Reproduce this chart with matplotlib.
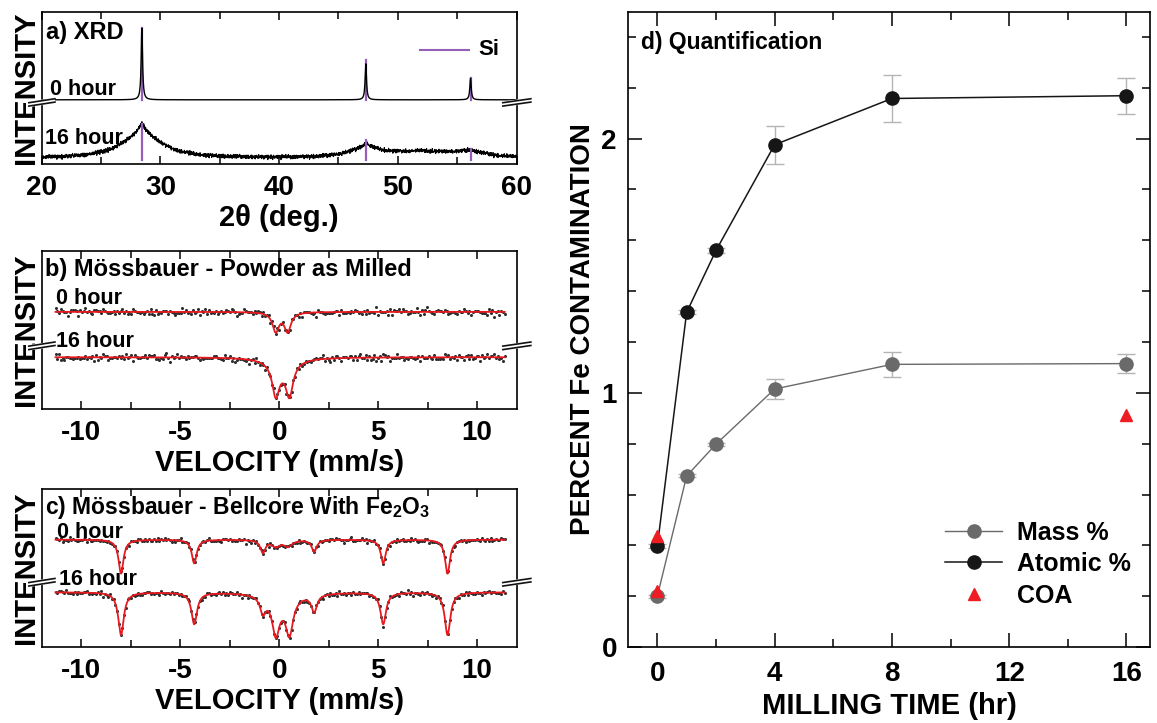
import numpy as np
import matplotlib
matplotlib.use("Agg")
import matplotlib.pyplot as plt
from matplotlib.ticker import MultipleLocator
from matplotlib.lines import Line2D

plt.rcParams.update({
    "font.family": ["Liberation Sans", "DejaVu Sans"],
    "font.weight": "bold",
    "axes.labelweight": "bold",
    "axes.unicode_minus": False,
    "mathtext.fontset": "custom",
    "mathtext.rm": "Liberation Sans:bold",
    "mathtext.it": "Liberation Sans:bold",
    "mathtext.bf": "Liberation Sans:bold",
    "axes.linewidth": 1.2,
})

# ---------------- (d) Fe contamination vs milling time ----------------
milling_hours = [0, 1, 2, 4, 8, 16]
mass_pct = [0.200, 0.673, 0.798, 1.015, 1.112, 1.115]
mass_err = [0.006, 0.006, 0.006, 0.040, 0.048, 0.037]
atomic_pct = [0.397, 1.317, 1.560, 1.976, 2.158, 2.169]
atomic_err = [0.008, 0.008, 0.008, 0.074, 0.092, 0.071]
coa_hours = [0, 0, 16]
coa_pct = [0.436, 0.219, 0.912]

# ---------------- (a) XRD ----------------
si_two_theta = [28.44, 47.30, 56.12]
si_rel_int = [1.00, 0.55, 0.30]
# 0 hour: sharp Si reflections
xrd0_base = 0.421
xrd0_pos = [28.44, 47.30, 56.12]
xrd0_height = [0.469, 0.236, 0.141]
xrd0_hwhm = [0.07, 0.07, 0.07]
# 16 hour: broadened reflections plus amorphous hump
xrd16_base = 0.035
xrd16_pos = [28.44, 28.44, 47.30, 47.30, 56.12, 52.0]
xrd16_height = [0.170, 0.055, 0.060, 0.025, 0.035, 0.040]
xrd16_hwhm = [2.0, 0.30, 1.6, 0.25, 1.6, 3.5]
xrd16_noise = 0.006

# ---------------- (b) Mössbauer, powder as milled ----------------
b0_base = 0.615
b0_pos = [-0.17, 0.43]
b0_depth = [0.121, 0.121]
b0_hwhm = [0.20, 0.20]
b16_base = 0.328
b16_pos = [-0.17, 0.52, 0.17]
b16_depth = [0.20, 0.20, 0.05]
b16_hwhm = [0.22, 0.22, 0.80]
b_noise = 0.010

# ---------------- (c) Mössbauer, Bellcore with Fe2O3 ----------------
c0_base = 0.680
c0_pos = [-7.99, -4.29, -0.82, 1.77, 5.26, 8.51, -0.17, 0.45]
c0_depth = [0.215, 0.150, 0.080, 0.075, 0.150, 0.215, 0.040, 0.040]
c0_hwhm = [0.15, 0.15, 0.15, 0.15, 0.15, 0.15, 0.25, 0.25]
c16_base = 0.347
c16_pos = [-7.99, -4.29, -0.82, 1.77, 5.26, 8.51, -0.17, 0.52, 0.17]
c16_depth = [0.27, 0.20, 0.10, 0.11, 0.20, 0.27, 0.22, 0.22, 0.05]
c16_hwhm = [0.17, 0.17, 0.17, 0.17, 0.17, 0.17, 0.22, 0.22, 0.80]
c_noise = 0.0065

# counting-statistics scatter (in units of one standard deviation)
RESID = [
    0.31, -1.12, 0.84, 1.57, -0.43, -1.96, 0.92, 0.08, -0.71, 1.24,
    -1.48, 0.53, 2.06, -0.22, -0.89, 0.61, -1.83, 1.02, 0.19, -0.52,
    1.41, -1.19, -0.07, 0.73, -2.27, 1.76, 0.38, -0.63, 1.09, -1.37,
    0.02, 0.94, -0.81, 1.52, -0.28, -1.04, 2.35, -1.61, 0.57, 0.21,
    -0.41, 1.33, -1.88, 0.79, -0.13, 0.48, -1.29, 1.68, -0.74, 0.27,
    -2.09, 0.99, 0.43, -0.92, 1.86, -0.47, -1.08, 0.69, 0.11, -1.72,
    1.18, -0.19, 0.88, -1.41, 1.97, -0.58, 0.33, -0.99, 1.46, -0.31,
    0.64, -2.18, 1.07, -0.02, -0.83, 1.59, -1.23, 0.41, -0.37, 1.29,
    -1.54, 0.77, 0.24, -0.68, 2.17, -1.91, 0.49, -0.09, 0.97, -1.14,
    0.71, -0.54, 1.38, -2.38, 0.86, 0.29, -0.61, 1.71, -1.31, 0.14,
    -0.18,
]

PURPLE = "#9460b8"
FIT_RED = "#e8191e"
DOT = "#2e2e2e"


def lorentz_sum(x, pos, amp, hwhm):
    y = np.zeros_like(x)
    for p, a, g in zip(pos, amp, hwhm):
        y += a / (1.0 + ((x - p) / g) ** 2)
    return y


def scatter_terms(n, start):
    return np.array([(RESID[(start + i) % 101] + RESID[(start + 3 * i) % 97]) / 1.414
                     for i in range(n)])


def break_mark(ax, yfrac):
    # short double slash that interrupts both side spines
    for x0, x1 in [(-0.027, 0.028), (0.971, 1.030)]:
        xs = [x0, x1]
        ys = [yfrac - 0.013, yfrac + 0.013]
        ax.plot(xs, ys, transform=ax.transAxes, color="white", lw=4.0,
                clip_on=False, zorder=6, solid_capstyle="butt")
        for dy in (-0.011, 0.011):
            ax.plot(xs, [ys[0] + dy, ys[1] + dy], transform=ax.transAxes,
                    color="#111111", lw=1.2, clip_on=False, zorder=7)


def style_left(ax, major, minor):
    ax.set_ylim(0, 1)
    ax.set_yticks([])
    ax.xaxis.set_major_locator(MultipleLocator(major))
    ax.xaxis.set_minor_locator(MultipleLocator(minor))
    ax.tick_params(axis="x", which="both", direction="in", top=True,
                   width=1.1, labelsize=20, pad=8)
    ax.tick_params(axis="x", which="major", length=6)
    ax.tick_params(axis="x", which="minor", length=5)
    ax.set_ylabel("INTENSITY", fontsize=21, labelpad=1)
    for lab in ax.get_xticklabels():
        lab.set_fontweight("bold")


fig = plt.figure(figsize=(11.57, 7.23), dpi=100)
axa = fig.add_axes([0.036, 0.7732, 0.4105, 0.2108])
axb = fig.add_axes([0.036, 0.4343, 0.4105, 0.2185])
axc = fig.add_axes([0.036, 0.1051, 0.4105, 0.2185])
axd = fig.add_axes([0.5428, 0.1051, 0.4511, 0.8789])

# ---- (a) XRD ----
tt = np.linspace(20, 60, 2001)
y0 = xrd0_base + lorentz_sum(tt, xrd0_pos, xrd0_height, xrd0_hwhm)
y16 = (xrd16_base + lorentz_sum(tt, xrd16_pos, xrd16_height, xrd16_hwhm)
       + xrd16_noise * scatter_terms(tt.size, 7))
for p, r in zip(si_two_theta, si_rel_int):
    axa.plot([p, p], [xrd0_base, xrd0_base + 0.469 * r], color=PURPLE, lw=1.6, zorder=2)
    axa.plot([p, p], [0.025, 0.025 + 0.24 * r], color=PURPLE, lw=1.6, zorder=4)
axa.plot(tt, y0, color="black", lw=1.0, zorder=3)
axa.plot(tt, y16, color="black", lw=0.8, zorder=3)
axa.plot([51.9, 56.0], [0.75, 0.75], color=PURPLE, lw=1.5)
axa.text(56.8, 0.75, "Si", fontsize=16, va="center", ha="left")
axa.text(20.35, 0.863, "a) XRD", fontsize=17, va="center", ha="left")
axa.text(20.7, 0.49, "0 hour", fontsize=15.5, va="center", ha="left")
axa.text(20.3, 0.17, "16 hour", fontsize=15.5, va="center", ha="left")
axa.set_xlim(20, 60)
style_left(axa, 10, 5)
axa.set_xlabel("2θ (deg.)", fontsize=21, labelpad=2)
break_mark(axa, 0.404)

# ---- (b) and (c) Mössbauer ----
vel = np.linspace(-11.3, 11.4, 256)
vfine = np.linspace(-11.3, 11.4, 1500)


def mossbauer(ax, base, pos, depth, hwhm, noise, start):
    ax.plot(vel, base - lorentz_sum(vel, pos, depth, hwhm) + noise * scatter_terms(vel.size, start),
            "o", ms=2.2, color=DOT, mec="none", zorder=2)
    ax.plot(vfine, base - lorentz_sum(vfine, pos, depth, hwhm), color=FIT_RED, lw=1.3, zorder=3)


mossbauer(axb, b0_base, b0_pos, b0_depth, b0_hwhm, b_noise, 3)
mossbauer(axb, b16_base, b16_pos, b16_depth, b16_hwhm, b_noise, 41)
axb.text(-11.83, 0.884, "b) Mössbauer - Powder as Milled", fontsize=17, va="center", ha="left")
axb.text(-11.3, 0.70, "0 hour", fontsize=15.5, va="center", ha="left")
axb.text(-11.3, 0.43, "16 hour", fontsize=15.5, va="center", ha="left")
axb.set_xlim(-12, 12)
style_left(axb, 5, 2.5)
axb.set_xlabel("VELOCITY (mm/s)", fontsize=21, labelpad=2)
break_mark(axb, 0.40)

mossbauer(axc, c0_base, c0_pos, c0_depth, c0_hwhm, c_noise, 17)
mossbauer(axc, c16_base, c16_pos, c16_depth, c16_hwhm, c_noise, 66)
axc.text(-11.83, 0.885, r"c) Mössbauer - Bellcore With Fe$_2$O$_3$", fontsize=16.5,
         va="center", ha="left")
axc.text(-11.2, 0.728, "0 hour", fontsize=15.5, va="center", ha="left")
axc.text(-11.1, 0.43, "16 hour", fontsize=15.5, va="center", ha="left")
axc.set_xlim(-12, 12)
style_left(axc, 5, 2.5)
axc.set_xlabel("VELOCITY (mm/s)", fontsize=21, labelpad=2)
break_mark(axc, 0.41)

# ---- (d) Quantification ----
MASS_C = "#6a6a6a"
ATOM_C = "#161616"
ERR_C = "#b4b4b4"
axd.errorbar(milling_hours, mass_pct, yerr=mass_err, fmt="-o", color=MASS_C, ms=9.5,
             lw=1.0, ecolor=ERR_C, elinewidth=1.0, capsize=6.5, capthick=1.0, zorder=3)
axd.errorbar(milling_hours, atomic_pct, yerr=atomic_err, fmt="-o", color=ATOM_C, ms=9.5,
             lw=1.1, ecolor=ERR_C, elinewidth=1.0, capsize=6.5, capthick=1.0, zorder=3)
axd.plot(coa_hours, coa_pct, "^", color="#ee1c23", ms=9, ls="none", zorder=4)
axd.set_xlim(-1.0, 16.8)
axd.set_ylim(0, 2.5)
axd.xaxis.set_major_locator(MultipleLocator(4))
axd.xaxis.set_minor_locator(MultipleLocator(2))
axd.yaxis.set_major_locator(MultipleLocator(1))
axd.yaxis.set_minor_locator(MultipleLocator(0.2))
axd.tick_params(which="both", direction="in", top=True, right=True, width=1.1, labelsize=20)
axd.tick_params(which="major", length=10)
axd.tick_params(which="minor", length=6)
axd.tick_params(axis="x", pad=10)
axd.tick_params(axis="y", pad=8)
for lab in axd.get_xticklabels() + axd.get_yticklabels():
    lab.set_fontweight("bold")
axd.set_xlabel("MILLING TIME (hr)", fontsize=21, labelpad=4)
axd.set_ylabel("PERCENT Fe CONTAMINATION", fontsize=20, labelpad=4)
axd.text(-0.55, 2.38, "d) Quantification", fontsize=16.5, va="center", ha="left")

handles = [
    Line2D([], [], color=MASS_C, marker="o", ms=9.5, lw=1.0),
    Line2D([], [], color=ATOM_C, marker="o", ms=9.5, lw=1.1),
    Line2D([], [], color="#ee1c23", marker="^", ms=9, ls="none"),
]
axd.legend(handles, ["Mass %", "Atomic %", "COA"], loc="upper left",
           bbox_to_anchor=(0.607, 0.199), frameon=False, fontsize=18,
           handlelength=2.3, handletextpad=0.6, labelspacing=0.3,
           borderpad=0, borderaxespad=0)

fig.savefig("out.png", dpi=100)
